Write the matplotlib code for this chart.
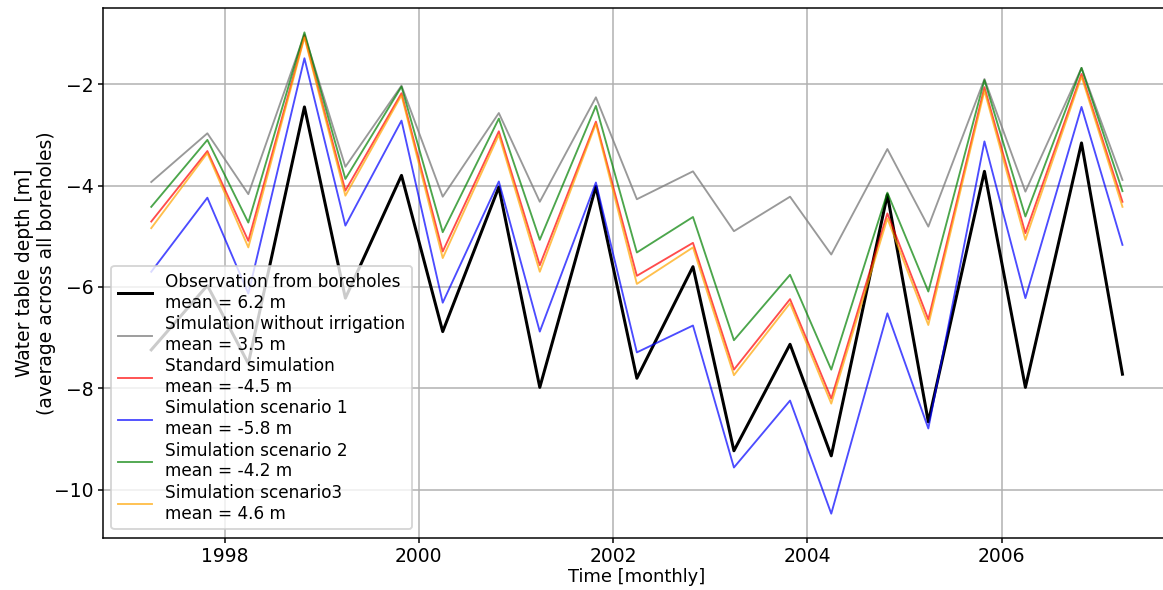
import numpy as np
import pandas as pd
import matplotlib
matplotlib.use("Agg")
import matplotlib.pyplot as plt

# sampling dates (twice a year, end of March / end of October)
dates = pd.to_datetime([
    "1997-03-31", "1997-10-28", "1998-03-31", "1998-10-28", "1999-03-31",
    "1999-10-28", "2000-03-31", "2000-10-28", "2001-03-31", "2001-10-28",
    "2002-03-31", "2002-10-28", "2003-03-31", "2003-10-28", "2004-03-31",
    "2004-10-28", "2005-03-31", "2005-10-28", "2006-03-31", "2006-10-28",
    "2007-03-31",
])

obs = [-7.24, -5.97, -7.51, -2.45, -6.22, -3.80, -6.88, -4.03, -7.98, -4.02,
       -7.80, -5.60, -9.23, -7.13, -9.33, -4.18, -8.66, -3.72, -7.98, -3.16, -7.72]
no_irr = [-3.93, -2.97, -4.17, -1.02, -3.63, -2.03, -4.22, -2.57, -4.32, -2.26,
          -4.27, -3.72, -4.90, -4.22, -5.36, -3.28, -4.81, -1.90, -4.12, -1.68, -3.89]
standard = [-4.71, -3.32, -5.09, -1.05, -4.10, -2.18, -5.30, -2.93, -5.57, -2.74,
            -5.78, -5.13, -7.63, -6.24, -8.20, -4.55, -6.64, -2.06, -4.94, -1.80, -4.32]
scen1 = [-5.70, -4.24, -6.13, -1.49, -4.79, -2.72, -6.31, -3.92, -6.88, -3.94,
         -7.29, -6.76, -9.56, -8.24, -10.47, -6.52, -8.79, -3.13, -6.22, -2.45, -5.17]
scen2 = [-4.42, -3.10, -4.73, -0.98, -3.87, -2.05, -4.92, -2.68, -5.07, -2.43,
         -5.32, -4.62, -7.05, -5.76, -7.63, -4.14, -6.09, -1.92, -4.61, -1.68, -4.11]
scen3 = [-4.84, -3.36, -5.22, -1.08, -4.20, -2.22, -5.43, -3.00, -5.70, -2.78,
         -5.94, -5.22, -7.74, -6.32, -8.30, -4.65, -6.75, -2.13, -5.07, -1.85, -4.42]

labels = [
    "Observation from boreholes\nmean = 6.2 m",
    "Simulation without irrigation\nmean = 3.5 m",
    "Standard simulation\nmean = -4.5 m",
    "Simulation scenario 1\nmean = -5.8 m",
    "Simulation scenario 2\nmean = -4.2 m",
    "Simulation scenario3\nmean = 4.6 m",
]

fig = plt.figure(figsize=(1163 / 135, 590 / 135), dpi=135)
ax = fig.add_axes([0.0883, 0.0886, 0.9186, 0.8973])

ax.plot(dates, obs, color="black", lw=1.6, label=labels[0])
ax.plot(dates, no_irr, color="gray", lw=1, alpha=0.8, label=labels[1])
ax.plot(dates, standard, color="red", lw=1, alpha=0.7, label=labels[2])
ax.plot(dates, scen1, color="blue", lw=1, alpha=0.7, label=labels[3])
ax.plot(dates, scen2, color="green", lw=1, alpha=0.7, label=labels[4])
ax.plot(dates, scen3, color="orange", lw=1, alpha=0.7, label=labels[5])

# the right edge of the axes falls just outside the saved picture
ax.spines["right"].set_visible(False)

ax.tick_params(length=2.5, pad=2.5)
ax.set_xlabel("Time [monthly]", fontsize=9.5, labelpad=1)
ax.set_ylabel("Water table depth [m]\n(average across all boreholes)", labelpad=-1)
ax.grid(True)
ax.legend(loc="lower left", fontsize=9, labelspacing=0.2, borderaxespad=0.5)

fig.savefig("out.png", dpi=135)
